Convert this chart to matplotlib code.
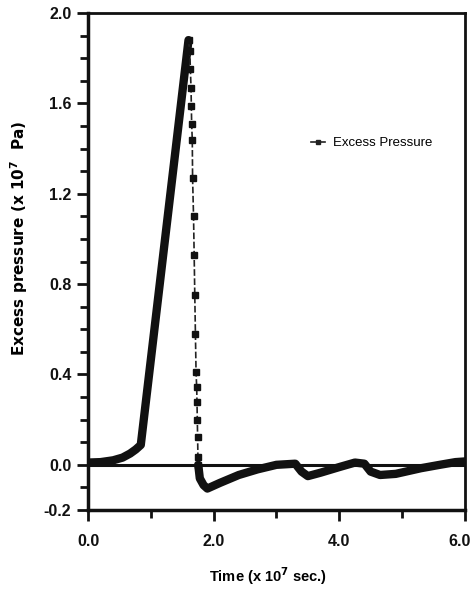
import numpy as np
import matplotlib.pyplot as plt
import matplotlib.transforms as mtransforms
from matplotlib.ticker import MultipleLocator

# values (time in 1e7 s, pressure in 1e7 Pa)
rise_time = [0.0, 0.2, 0.4, 0.55, 0.67, 0.76, 0.84, 1.6]
rise_pressure = [0.01, 0.012, 0.02, 0.032, 0.05, 0.068, 0.088, 1.88]

drop_time = [1.60, 1.62, 1.63, 1.64, 1.645, 1.65, 1.66, 1.665, 1.68, 1.69,
             1.70, 1.71, 1.72, 1.73, 1.735, 1.74, 1.745, 1.75, 1.755]
drop_pressure = [1.88, 1.83, 1.75, 1.67, 1.59, 1.51, 1.44, 1.27, 1.10, 0.93,
                 0.75, 0.58, 0.41, 0.345, 0.28, 0.20, 0.124, 0.035, 0.0]

tail_time = [1.755, 1.78, 1.84, 1.90, 2.1, 2.4, 2.7, 3.0, 3.3, 3.4, 3.5, 3.7,
             4.0, 4.25, 4.4, 4.5, 4.65, 4.9, 5.3, 5.6, 5.85, 6.0]
tail_pressure = [0.0, -0.06, -0.09, -0.105, -0.08, -0.045, -0.02, 0.0, 0.005,
                 -0.03, -0.05, -0.035, -0.01, 0.01, 0.005, -0.03, -0.045,
                 -0.04, -0.015, 0.0, 0.012, 0.015]

fig = plt.figure(figsize=(4.74, 5.92), dpi=100)
ax = fig.add_axes([0.1857, 0.1385, 0.795, 0.8395])

# thick part of the curve (dense overlapping markers in the original)
ax.plot(rise_time, rise_pressure, color='#111111', lw=6, solid_capstyle='round',
        solid_joinstyle='round')
ax.plot(tail_time, tail_pressure, color='#111111', lw=6, solid_capstyle='round',
        solid_joinstyle='round')
# sparse part: thin dashed line with square markers
ax.plot(drop_time, drop_pressure, color='#222222', lw=1.2, ls=(0, (4, 1.5)),
        marker='s', ms=4.5, mfc='#111111', mec='#111111')

# legend entry
ax.plot([], [], color='#222222', lw=1.2, marker='s', ms=3,
        label='Excess Pressure')

ax.axhline(0, color='#111111', lw=2.2, zorder=1)

ax.set_xlim(0, 6.0)
ax.set_ylim(-0.2, 2.0)
ax.set_xticks([0.0, 2.0, 4.0, 6.0])
ax.xaxis.set_minor_locator(MultipleLocator(1.0))
ax.yaxis.set_minor_locator(MultipleLocator(0.1))
ax.set_yticks([-0.2, 0.0, 0.4, 0.8, 1.2, 1.6, 2.0])
ax.xaxis.set_major_formatter(lambda v, p: f'{v:.1f}')
ax.yaxis.set_major_formatter(lambda v, p: f'{v:.1f}')

ax.tick_params(which='both', direction='out', width=2, colors='#111111',
               top=False, right=False)
ax.tick_params(which='major', length=8, labelsize=11.5, pad=4)
ax.tick_params(axis='x', which='major', pad=9)
ax.tick_params(which='minor', length=6)
for lab in ax.get_xticklabels() + ax.get_yticklabels():
    lab.set_fontweight('bold')
    lab.set_family(['Liberation Sans', 'DejaVu Sans'])

# keep the last x label inside the figure
last = ax.get_xticklabels()[-1]
last.set_transform(last.get_transform() +
                   mtransforms.ScaledTranslation(-5 / 100, 0, fig.dpi_scale_trans))

for side in ['left', 'bottom']:
    ax.spines[side].set_linewidth(2.5)
for side in ['top', 'right']:
    ax.spines[side].set_linewidth(2.0)
for s in ax.spines.values():
    s.set_color('#111111')

ax.set_ylabel('Excess pressure (x 10$^{\\mathbf{7}}$  Pa)', fontsize=11,
              fontweight='bold', family='DejaVu Sans')
ax.yaxis.set_label_coords(-0.155, 0.547)
ax.set_xlabel('Time (x 10$^{\\mathbf{7}}$ sec.)', fontsize=10.5,
              fontweight='bold', family=['Liberation Sans', 'DejaVu Sans'])
ax.xaxis.set_label_coords(0.477, -0.112)

ax.legend(loc='center left', bbox_to_anchor=(0.56, 0.738), frameon=False,
          handlelength=1.1, handletextpad=0.6,
          prop={'family': ['Liberation Sans', 'DejaVu Sans'], 'size': 9.5})

fig.savefig('out.png', dpi=100)
